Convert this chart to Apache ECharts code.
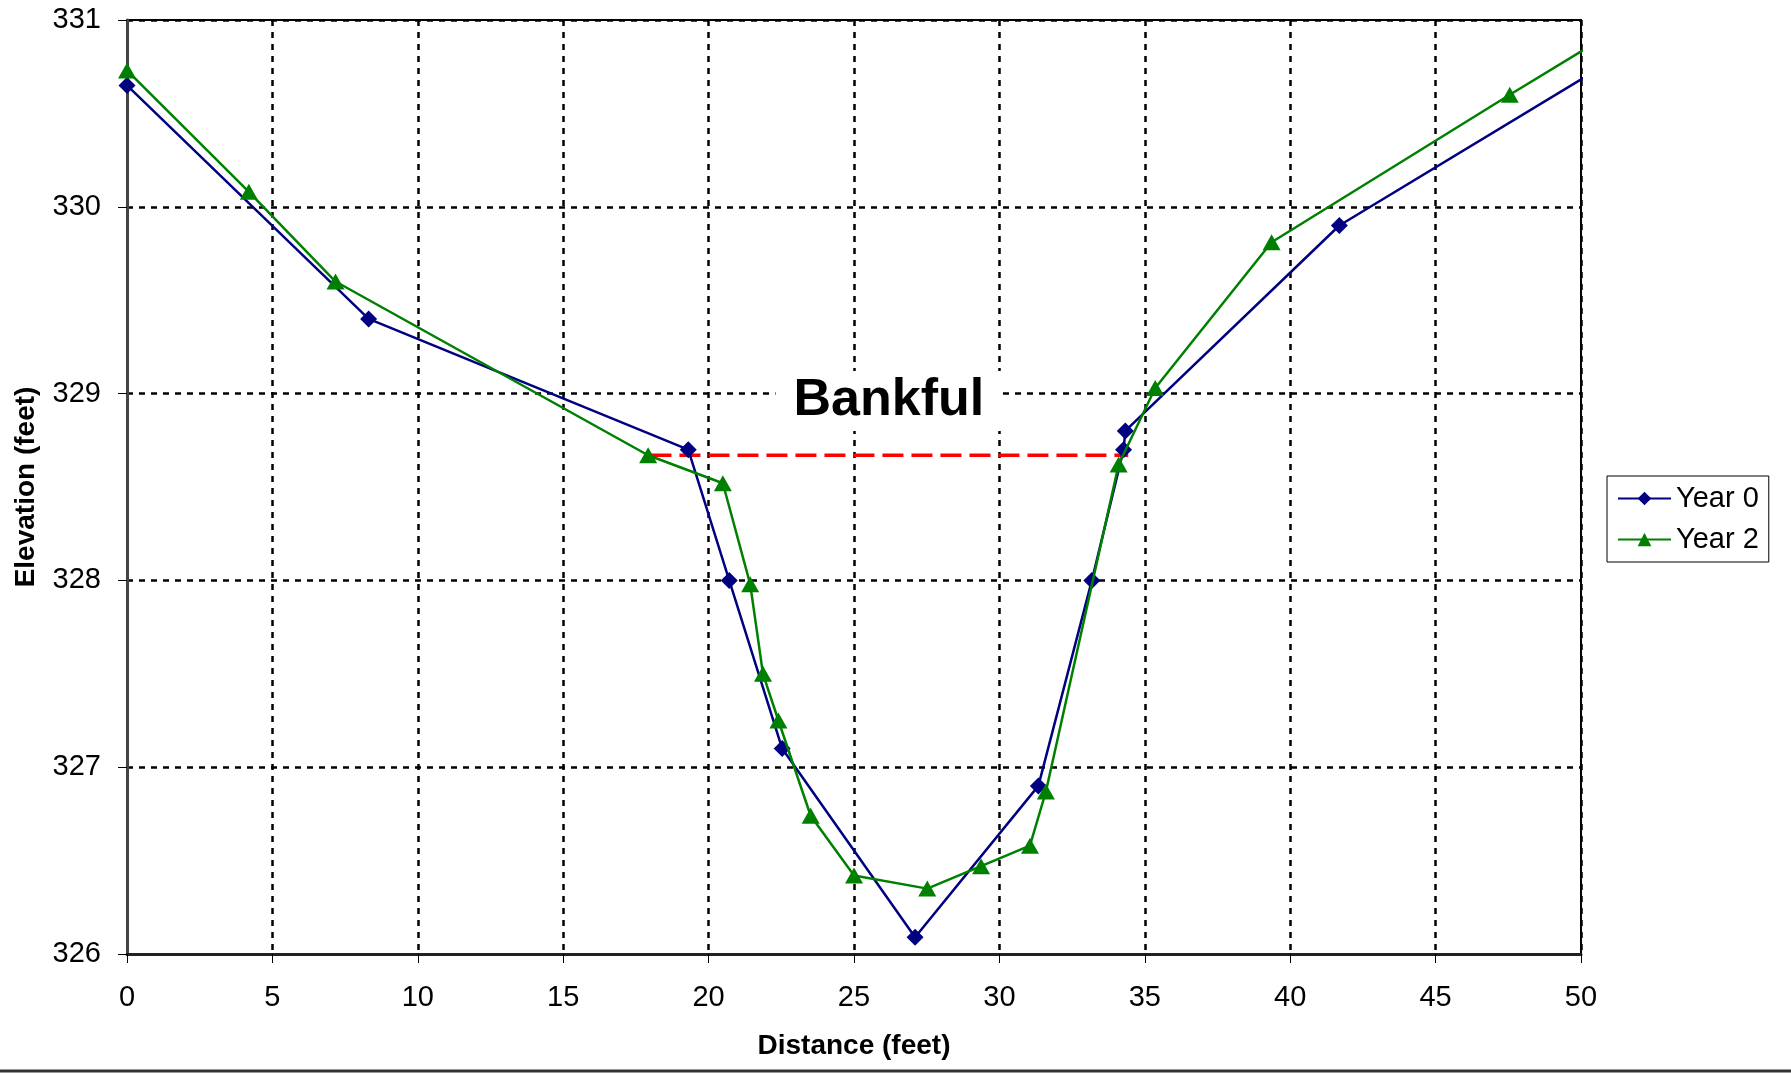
<!DOCTYPE html>
<html>
<head>
<meta charset="utf-8">
<script src="https://cdn.jsdelivr.net/npm/echarts@6/dist/echarts.min.js"></script>
<style>
    html, body {margin: 0; padding: 0; background: #fff;}
    #main {width: 1791px; height: 1074px;}
</style>
</head>
<body>
<div id="main"></div>
<script>
    // cross section survey, distance (ft) vs elevation (ft)
    const year0Dist = [0, 8.31, 19.3, 20.71, 22.53, 27.1, 31.34, 33.18, 34.27, 34.33, 41.69, 50.3]
    const year0Elev = [330.65, 329.4, 328.7, 328.0, 327.1, 326.09, 326.9, 328.0, 328.7, 328.8, 329.9, 330.71]

    const year2Dist = [0, 4.19, 7.17, 17.92, 20.49, 21.43, 21.87, 22.4, 23.51, 25.0, 27.52, 29.37, 31.05, 31.6, 34.1, 35.36, 39.36, 47.55, 50.3]
    const year2Elev = [330.73, 330.08, 329.6, 328.67, 328.52, 327.98, 327.5, 327.25, 326.74, 326.42, 326.35, 326.47, 326.58, 326.87, 328.62, 329.03, 329.81, 330.6, 330.86]

    const bankfulElev = 328.67
    const bankfulFrom = 18.0
    const bankfulTo = 34.43
    const bankfulLabelAt = [26.2, 328.96]

    const xTicks = {min: 0, max: 50, interval: 5}
    const yTicks = {min: 326, max: 331, interval: 1}

    const font = 'Liberation Sans'
    const pairs = (xs, ys) => xs.map((x, i) => [x, ys[i]])

    const myChart = echarts.init(document.getElementById('main'))
    const option = {
        animation: false,
        textStyle: {fontFamily: font, color: '#000'},
        grid: {
            left: 127, right: 210, top: 20, bottom: 120,
            show: true, borderColor: '#000', borderWidth: 2, backgroundColor: '#fff'
        },
        legend: {
            data: ['Year 0', 'Year 2'],
            orient: 'vertical',
            left: 1607, top: 476,
            padding: [8, 10],
            itemGap: 12,
            itemWidth: 53, itemHeight: 17,
            borderColor: '#000', borderWidth: 1,
            textStyle: {fontSize: 29, fontFamily: font, color: '#000'}
        },
        xAxis: {
            type: 'value',
            min: xTicks.min, max: xTicks.max, interval: xTicks.interval,
            name: 'Distance (feet)',
            nameLocation: 'middle',
            nameGap: 78,
            nameTextStyle: {fontSize: 28, fontWeight: 'bold', fontFamily: font, color: '#000'},
            axisLine: {onZero: false, lineStyle: {color: '#222', width: 3}},
            axisTick: {show: true, length: 9, lineStyle: {color: '#000', width: 1}},
            axisLabel: {fontSize: 29, margin: 29, color: '#000', fontFamily: font},
            splitLine: {show: true, lineStyle: {color: '#000', width: 2.5, type: [6, 6]}}
        },
        yAxis: {
            type: 'value',
            min: yTicks.min, max: yTicks.max, interval: yTicks.interval,
            name: 'Elevation (feet)',
            nameLocation: 'middle',
            nameGap: 87,
            nameTextStyle: {fontSize: 28, fontWeight: 'bold', fontFamily: font, color: '#000'},
            axisLine: {show: true, onZero: false, lineStyle: {color: '#444', width: 3}},
            axisTick: {show: true, length: 9, lineStyle: {color: '#000', width: 1}},
            axisLabel: {fontSize: 29, margin: 26, color: '#000', fontFamily: font},
            splitLine: {show: true, lineStyle: {color: '#000', width: 2.5, type: [6, 6]}}
        },
        series: [
            {
                name: 'Bankful',
                type: 'line',
                data: [[bankfulFrom, bankfulElev], [bankfulTo, bankfulElev]],
                symbol: 'none',
                lineStyle: {color: '#ff0000', width: 3.5, type: [21, 8]},
                z: 1,
                markPoint: {
                    symbol: 'rect',
                    symbolSize: 0,
                    data: [{coord: bankfulLabelAt, value: 'Bankful'}],
                    label: {
                        show: true,
                        position: 'inside',
                        formatter: 'Bankful',
                        fontSize: 52,
                        fontWeight: 'bold',
                        fontFamily: font,
                        color: '#000',
                        backgroundColor: '#fff',
                        padding: [4, 18]
                    }
                }
            },
            {
                name: 'Year 0',
                type: 'line',
                data: pairs(year0Dist, year0Elev),
                symbol: 'diamond',
                symbolSize: [17, 17],
                color: '#000080',
                lineStyle: {color: '#000080', width: 2.5},
                itemStyle: {color: '#000080'},
                z: 3
            },
            {
                name: 'Year 2',
                type: 'line',
                data: pairs(year2Dist, year2Elev),
                symbol: 'triangle',
                symbolSize: [18, 16],
                color: '#008000',
                lineStyle: {color: '#008000', width: 2.5},
                itemStyle: {color: '#008000'},
                z: 4
            }
        ],
        graphic: [{
            type: 'line',
            shape: {x1: 0, y1: 1071, x2: 1791, y2: 1071},
            style: {stroke: '#333', lineWidth: 3}
        }]
    }
    myChart.setOption(option)
</script>
</body>
</html>
